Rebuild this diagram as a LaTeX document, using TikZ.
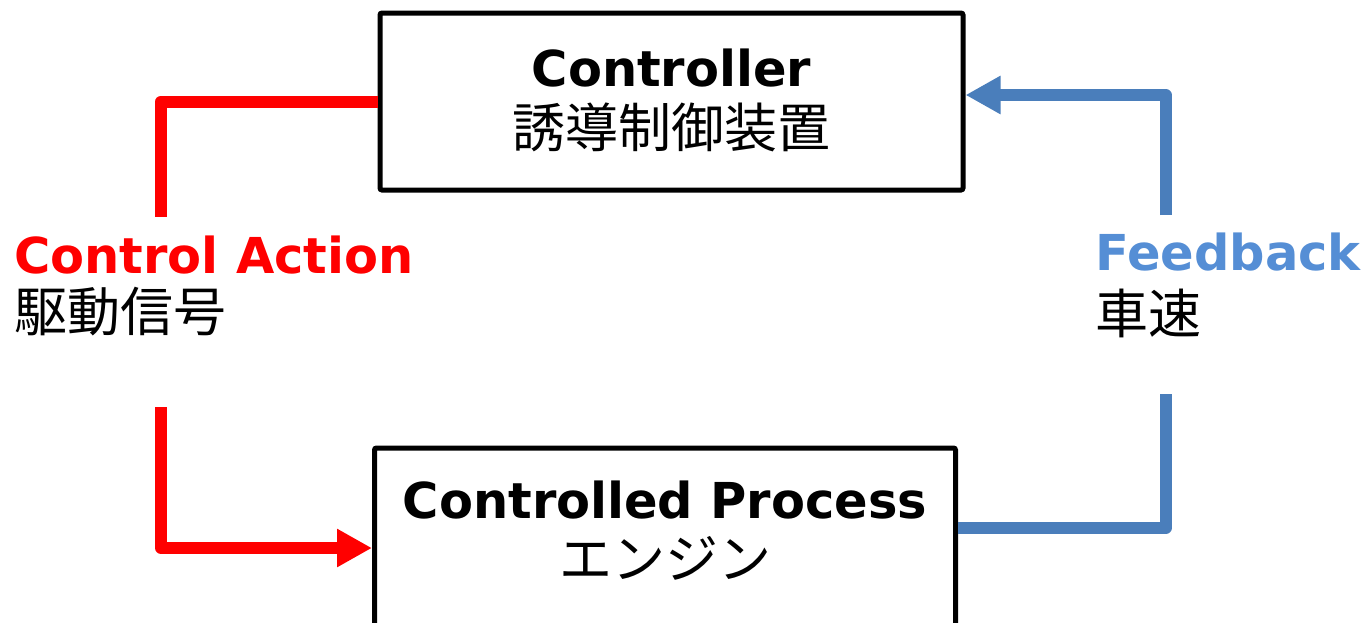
\documentclass[tikz,border=0pt]{standalone}
\usepackage{fontspec}
\setmainfont{DejaVu Sans}
\newfontfamily\jp{Noto Sans CJK JP}
\usetikzlibrary{arrows.meta,calc}
\definecolor{fbline}{HTML}{4A7EBB}
\definecolor{fbtext}{HTML}{558ED5}
\begin{document}
\begin{tikzpicture}[x=1pt,y=-1pt,
  box/.style={draw=black, line width=5pt, rounded corners=2pt, inner sep=0pt, fill=white},
  title/.style={font=\fontsize{49.5}{60}\selectfont\bfseries, anchor=base, inner sep=0pt},
  sub/.style={font=\jp\fontsize{53}{60}\selectfont, anchor=base, inner sep=0pt},
  redline/.style={draw=red, line width=12pt, line join=round},
  blueline/.style={draw=fbline, line width=12pt, line join=round},
  tip/.style={-{Triangle[length=35pt,width=36pt]}},
]
\useasboundingbox (0,0) rectangle (1363,622);
\clip (0,0) rectangle (1363,622);
% boxes
\node[box, minimum width=583pt, minimum height=177pt] (ctrl) at (671.5,101.5) {};
\node[box, minimum width=581pt, minimum height=200pt] (proc) at (665,548) {};
\node[title] (ctrlT) at (671.5,86) {Controller};
\node[sub] (ctrlJ) at (671.5,147) {誘導制御装置};
\node[title] (procT) at (665,518) {Controlled Process};
\node[sub] (procJ) at (665,578) {エンジン};
% labels
\node[title, anchor=base west, text=red] (caT) at (14,273) {Control Action};
\node[sub, anchor=base west] (caJ) at (14,331) {駆動信号};
\node[title, anchor=base west, text=fbtext] (fbT) at (1095,270) {Feedback};
\node[sub, anchor=base west] (fbJ) at (1095,333) {車速};
% connector ends
\coordinate (caTop) at (161,217);
\coordinate (caBot) at (161,407);
\coordinate (fbTop) at (1165.5,215);
\coordinate (fbBot) at (1165.5,394);
\path (proc.east) ++(0,-20) coordinate (pOut);
\path (ctrl.east) ++(0,-6.5) coordinate (fbIn);
% connectors
\draw[redline] (ctrl.west) -| (caTop);
\draw[redline, tip] (caBot) |- (proc.west);
\draw[blueline] (pOut) -| (fbBot);
\draw[blueline, tip] (fbTop) |- (fbIn);
\end{tikzpicture}
\end{document}
